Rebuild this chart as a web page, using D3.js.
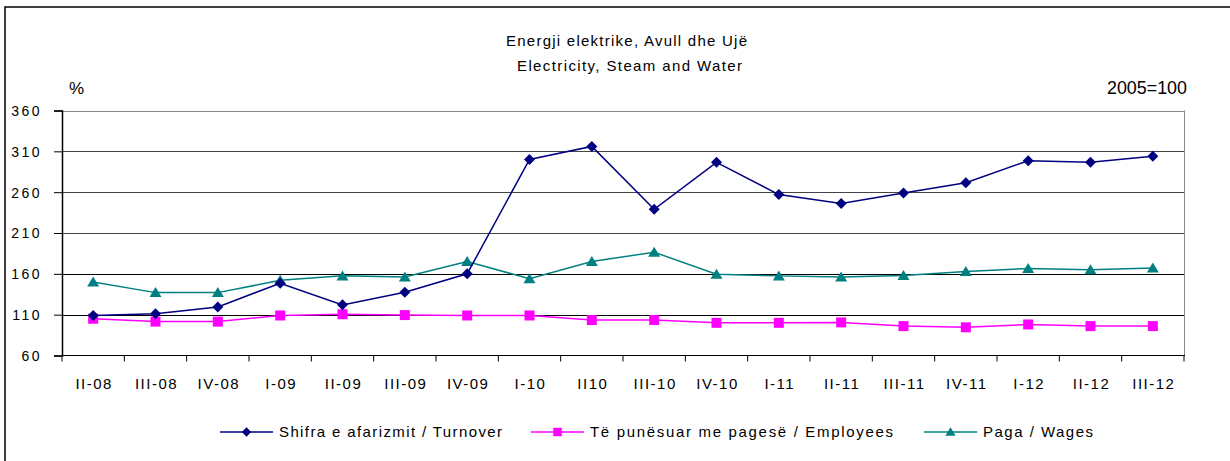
<!DOCTYPE html>
<html>
<head>
<meta charset="utf-8">
<style>
body { margin: 0; background: #fff; }
text { font-family: "Liberation Sans", Arial, sans-serif; fill: #000; }
</style>
<script src="https://cdnjs.cloudflare.com/ajax/libs/d3/7.8.5/d3.min.js"></script>
</head>
<body>
<div id="chart"></div>
<script>

// quarters on the x axis
var quarters = ["II-08", "III-08", "IV-08", "I-09", "II-09", "III-09", "IV-09", "I-10", "II10",
                "III-10", "IV-10", "I-11", "II-11", "III-11", "IV-11", "I-12", "II-12", "III-12"];

// series, 2005=100
var turnover  = [109, 111, 119.5, 148.5, 122, 137.5, 160, 300, 316, 239, 296.5, 257, 246, 259, 271.5, 298.5, 296.5, 304];
var employees = [105, 101.5, 101.5, 109, 110.5, 109.5, 109, 109, 103.5, 103.5, 100, 100, 100.5, 96, 94.5, 98, 96, 96];
var wages     = [150, 137, 137, 152, 157.5, 156, 175, 154, 175, 186.5, 159.5, 157.5, 156, 158, 163, 166.5, 165, 167];

var yTicks = [60, 110, 160, 210, 260, 310, 360];

var seriesNames = ["Shifra e afarizmit / Turnover", "Të punësuar me pagesë / Employees", "Paga / Wages"];

var W = 1230, H = 461;
var plotLeft = 62, plotRight = 1184, plotTop = 110.5, plotBottom = 355.5;

var svg = d3.select("#chart").append("svg")
    .attr("width", W)
    .attr("height", H);

// outer frame (bottom/right run off the picture)
svg.append("path")
    .attr("d", "M5,480V7H1250")
    .attr("fill", "none")
    .attr("stroke", "#000")
    .attr("stroke-width", 1.5);

var x = d3.scaleBand().domain(quarters).range([plotLeft, plotRight]).padding(0);
var y = d3.scaleLinear().domain([60, 360]).range([plotBottom, plotTop]);
function cx(i) { return x(quarters[i]) + x.bandwidth() / 2; }

// grid lines
svg.append("g").selectAll("line")
    .data(yTicks.filter(function(d) { return d > 60; }))
    .enter().append("line")
    .attr("x1", plotLeft).attr("x2", plotRight)
    .attr("y1", function(d) { return Math.round(y(d)) + 0.5; })
    .attr("y2", function(d) { return Math.round(y(d)) + 0.5; })
    .attr("stroke", function(d) { return d == 360 ? "#888" : (d <= 160 ? "#000" : "#444"); })
    .attr("stroke-width", 1);

// right border of plot area
svg.append("line")
    .attr("x1", plotRight + 0.5).attr("x2", plotRight + 0.5)
    .attr("y1", plotTop).attr("y2", plotBottom)
    .attr("stroke", "#888");

// y axis
var yAxis = svg.append("g")
    .attr("transform", "translate(" + plotLeft + ",0)")
    .call(d3.axisLeft(y).tickValues(yTicks).tickSize(8).tickPadding(12).tickFormat(d3.format("d")));
yAxis.select(".domain").attr("stroke", "#000").attr("stroke-width", 1.5);
yAxis.selectAll(".tick line").attr("stroke", "#000");
yAxis.selectAll("text")
    .attr("font-family", null)
    .attr("font-size", 14)
    .attr("letter-spacing", 2.5)
    .attr("dy", "0.35em");

// x axis line and boundary ticks
svg.append("line")
    .attr("x1", plotLeft).attr("x2", plotRight + 1)
    .attr("y1", plotBottom).attr("y2", plotBottom)
    .attr("stroke", "#000").attr("stroke-width", 1.2);
svg.append("g").selectAll("line")
    .data(quarters.concat(["end"]))
    .enter().append("line")
    .attr("x1", function(d, i) { return plotLeft + i * x.bandwidth(); })
    .attr("x2", function(d, i) { return plotLeft + i * x.bandwidth(); })
    .attr("y1", plotBottom).attr("y2", plotBottom + 6)
    .attr("stroke", "#000");

svg.append("g").selectAll("text")
    .data(quarters)
    .enter().append("text")
    .attr("x", function(d, i) { return cx(i) + 1; })
    .attr("y", 389)
    .attr("text-anchor", "middle")
    .attr("font-size", 15)
    .attr("letter-spacing", 1.5)
    .text(function(d) { return d; });

// titles
svg.append("text").attr("x", 506).attr("y", 46).attr("font-size", 15)
    .attr("textLength", 241).attr("lengthAdjust", "spacing")
    .text("Energji elektrike, Avull dhe Ujë");
svg.append("text").attr("x", 517).attr("y", 71).attr("font-size", 15)
    .attr("textLength", 225).attr("lengthAdjust", "spacing")
    .text("Electricity, Steam and Water");
svg.append("text").attr("x", 69).attr("y", 94).attr("font-size", 17)
    .text("%");
svg.append("text").attr("x", 1107).attr("y", 94).attr("font-size", 19)
    .attr("textLength", 80).attr("lengthAdjust", "spacingAndGlyphs")
    .text("2005=100");

// markers
var diamond = "M0,-5.5L5.5,0L0,5.5L-5.5,0Z";
var square = "M-5,-5H5V5H-5Z";
var triangle = "M0,-5.5L6,4.5H-6Z";

var series = [
    { name: seriesNames[0], values: turnover,  color: "#000080", shape: diamond },
    { name: seriesNames[1], values: employees, color: "#FF00FF", shape: square },
    { name: seriesNames[2], values: wages,     color: "#008080", shape: triangle }
];

var line = d3.line()
    .x(function(d, i) { return cx(i); })
    .y(function(d) { return y(d); });

// draw wages first, then employees, turnover on top
[2, 1, 0].forEach(function(k) {
    var s = series[k];
    svg.append("path")
        .datum(s.values)
        .attr("d", line)
        .attr("fill", "none")
        .attr("stroke", s.color)
        .attr("stroke-width", 1.5);
    svg.append("g").selectAll("path")
        .data(s.values)
        .enter().append("path")
        .attr("d", s.shape)
        .attr("transform", function(d, i) { return "translate(" + cx(i) + "," + y(d) + ")"; })
        .attr("fill", s.color);
});

// legend
var legendPos = [
    { x1: 220, x2: 273, tx: 279, tw: 223 },
    { x1: 531, x2: 584, tx: 590, tw: 303 },
    { x1: 924, x2: 977, tx: 983, tw: 110 }
];
var legendY = 432;
series.forEach(function(s, k) {
    var p = legendPos[k];
    var g = svg.append("g");
    g.append("line")
        .attr("x1", p.x1).attr("x2", p.x2)
        .attr("y1", legendY).attr("y2", legendY)
        .attr("stroke", s.color).attr("stroke-width", 1.5);
    g.append("path")
        .attr("d", s.shape)
        .attr("transform", "translate(" + ((p.x1 + p.x2) / 2) + "," + legendY + ") scale(0.85)")
        .attr("fill", s.color);
    g.append("text")
        .attr("x", p.tx).attr("y", legendY + 5)
        .attr("font-size", 15)
        .attr("textLength", p.tw).attr("lengthAdjust", "spacing")
        .text(s.name);
});

</script>
</body>
</html>
